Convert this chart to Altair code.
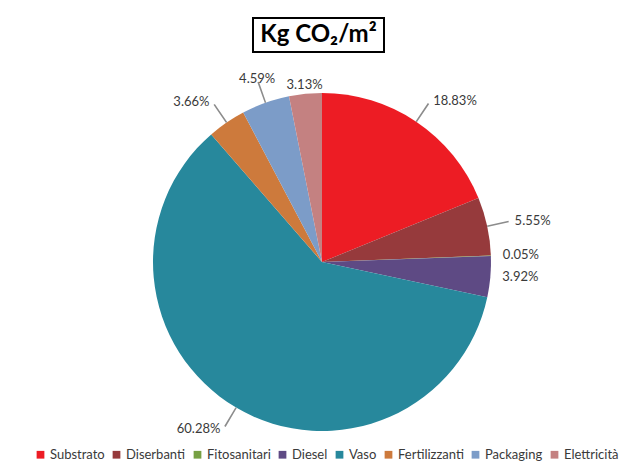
import altair as alt
import pandas as pd
import math

categories = ["Substrato", "Diserbanti", "Fitosanitari", "Diesel", "Vaso",
              "Fertilizzanti", "Packaging", "Elettricità"]
values = [18.83, 5.55, 0.05, 3.92, 60.28, 3.66, 4.59, 3.13]
colors = ["#ED1C24", "#963A3C", "#77A043", "#5E4A84", "#27889C",
          "#CD7A3C", "#7C9CC8", "#C48181"]
leader_cats = ["Substrato", "Diserbanti", "Vaso", "Fertilizzanti", "Packaging"]

df = pd.DataFrame({"category": categories, "value": values,
                   "idx": list(range(len(categories)))})

CX, CY, R = 314, 254, 169
FONT = "Lato"
tscale = alt.Scale(domain=[0, 1], range=[0, 2 * math.pi], nice=False, zero=False)

lead_test = " || ".join([f"datum.category === '{c}'" for c in leader_cats])

base = (
    alt.Chart(df)
    .transform_window(cum="sum(value)", sort=[alt.SortField("idx")], frame=[None, 0])
    .transform_joinaggregate(total="sum(value)")
    .transform_calculate(
        f0="(datum.cum - datum.value) / datum.total",
        f1="datum.cum / datum.total",
        fm="(datum.cum - datum.value / 2) / datum.total",
        lead=f"({lead_test}) ? 1 : 0",
        label="format(datum.value, '.2f') + '%'",
    )
    .transform_calculate(
        lr="datum.lead == 1 ? 194 : 178",
        l0="datum.fm - 0.0007",
        l1="datum.fm + 0.0007",
        side="datum.fm > 0.06 && datum.fm < 0.44 ? 'R' : (datum.fm > 0.56 && datum.fm < 0.94 ? 'L' : 'C')",
    )
)

pie = base.mark_arc(radius=R).encode(
    theta=alt.Theta("f0:Q", scale=tscale, stack=False),
    theta2="f1:Q",
    color=alt.Color(
        "category:N",
        scale=alt.Scale(domain=categories, range=colors),
        legend=alt.Legend(
            title=None, orient="none", legendX=26, legendY=440,
            direction="horizontal", symbolType="square", symbolSize=60,
            symbolStrokeWidth=0, labelFont=FONT, labelFontSize=13,
            labelColor="#3A3A3A", columnPadding=5, labelOffset=3,
        ),
    ),
    x=alt.value(CX),
    y=alt.value(CY),
)

leaders = base.transform_filter("datum.lead == 1").mark_arc(
    radius=R + 22, radius2=R, color="#8C8C8C"
).encode(
    theta=alt.Theta("l0:Q", scale=tscale, stack=False),
    theta2="l1:Q",
    x=alt.value(CX),
    y=alt.value(CY),
)


def labels(side, align, dx):
    return base.transform_filter(f"datum.side === '{side}'").mark_text(
        align=align, baseline="middle", dx=dx, font=FONT, fontSize=13,
        color="#3A3A3A",
    ).encode(
        theta=alt.Theta("fm:Q", scale=tscale, stack=False),
        radius=alt.Radius("lr:Q", scale=None),
        text="label:N",
        x=alt.value(CX),
        y=alt.value(CY),
    )


title_box = alt.Chart(df).mark_rect(
    fill="white", stroke="black", strokeWidth=2
).encode(
    x=alt.value(245), x2=alt.value(376), y=alt.value(10), y2=alt.value(44)
).transform_filter("datum.idx == 0")

title_text = alt.Chart(df).mark_text(
    text="Kg CO₂/m²", font=FONT, fontSize=24, fontWeight="bold", color="black",
    align="center", baseline="middle",
).encode(x=alt.value(310.5), y=alt.value(27)).transform_filter("datum.idx == 0")

chart = alt.layer(
    pie, leaders,
    labels("R", "left", 3), labels("L", "right", -3), labels("C", "center", 0),
    title_box, title_text,
).properties(
    width=616, height=454, padding=0, autosize=alt.AutoSizeParams(type="none")
).configure_view(stroke=None)

chart.save("out.html", embed_options={"renderer": "svg", "actions": False})
